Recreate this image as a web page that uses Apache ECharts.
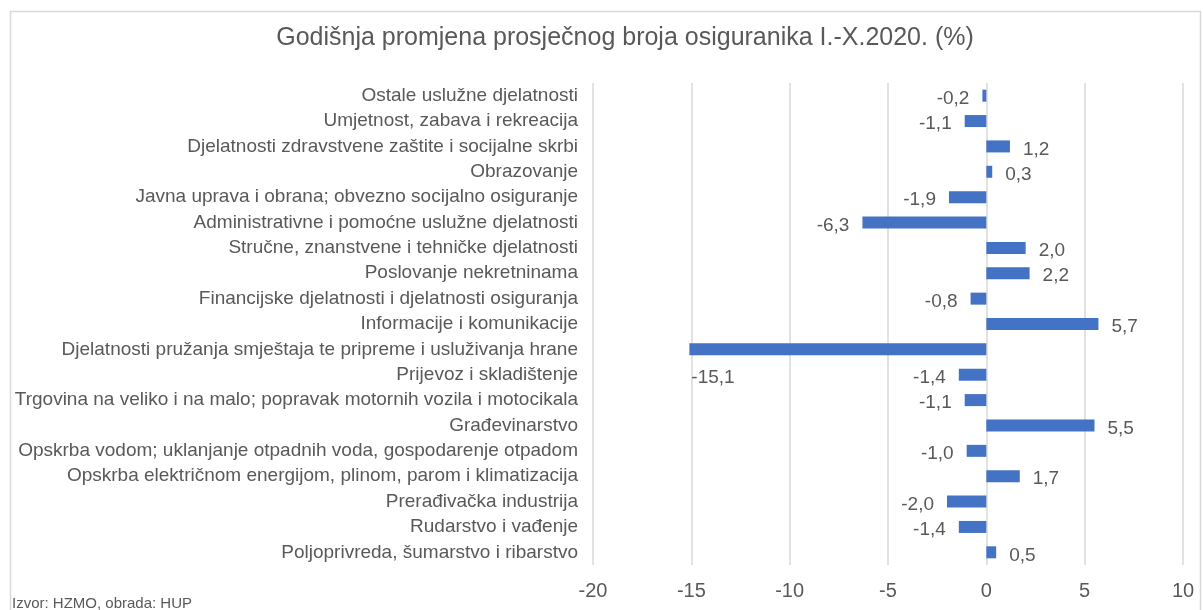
<!DOCTYPE html>
<html lang="hr">
<head>
  <meta charset="UTF-8">
  <title>Godišnja promjena prosječnog broja osiguranika</title>
  <script src="https://cdn.jsdelivr.net/npm/echarts@6/dist/echarts.min.js"></script>
  <style>
    body { margin: 0; background: #fff; }
  </style>
</head>
<body>
  <div id="main" style="width: 1203px; height: 610px;"></div>

  <script>
    // Categories listed bottom to top (same order as the axis)
    const categories = [
      'Poljoprivreda, šumarstvo i ribarstvo',
      'Rudarstvo i vađenje',
      'Prerađivačka industrija',
      'Opskrba električnom energijom, plinom, parom i klimatizacija',
      'Opskrba vodom; uklanjanje otpadnih voda, gospodarenje otpadom',
      'Građevinarstvo',
      'Trgovina na veliko i na malo; popravak motornih vozila i motocikala',
      'Prijevoz i skladištenje',
      'Djelatnosti pružanja smještaja te pripreme i usluživanja hrane',
      'Informacije i komunikacije',
      'Financijske djelatnosti i djelatnosti osiguranja',
      'Poslovanje nekretninama',
      'Stručne, znanstvene i tehničke djelatnosti',
      'Administrativne i pomoćne uslužne djelatnosti',
      'Javna uprava i obrana; obvezno socijalno osiguranje',
      'Obrazovanje',
      'Djelatnosti zdravstvene zaštite i socijalne skrbi',
      'Umjetnost, zabava i rekreacija',
      'Ostale uslužne djelatnosti'
    ];

    const changes = [0.5, -1.4, -2.0, 1.7, -1.0, 5.5, -1.1, -1.4, -15.1, 5.7,
                     -0.8, 2.2, 2.0, -6.3, -1.9, 0.3, 1.2, -1.1, -0.2];

    const textColor = '#595959';
    const gridColor = '#d9d9d9';
    const font = 'Liberation Sans';

    let myChart = echarts.init(document.getElementById('main'));

    // the big negative bar has its label tucked under the bar end
    const barData = changes.map(v => {
      if (v < -10) {
        return {
          value: v,
          label: { position: 'insideLeft', distance: 2, offset: [0, 28] }
        };
      }
      return v;
    });

    const options = {
      animation: false,
      backgroundColor: '#fff',
      graphic: [
        {
          type: 'rect',
          shape: { x: 10.5, y: 11.5, width: 1190, height: 620 },
          style: { fill: 'none', stroke: gridColor, lineWidth: 1.5 },
          silent: true
        },
        {
          type: 'text',
          x: 625,
          y: 38,
          style: {
            text: 'Godišnja promjena prosječnog broja osiguranika I.-X.2020. (%)',
            fontFamily: font,
            fontSize: 25,
            fill: textColor,
            align: 'center',
            verticalAlign: 'middle'
          }
        },
        {
          type: 'text',
          x: 12,
          y: 604,
          style: {
            text: 'Izvor: HZMO, obrada: HUP',
            fontFamily: font,
            fontSize: 15,
            fill: textColor,
            verticalAlign: 'middle'
          }
        }
      ],
      grid: { left: 593, right: 20, top: 83, bottom: 45, containLabel: false },
      xAxis: {
        type: 'value',
        min: -20,
        max: 10,
        interval: 5,
        axisLine: { show: false },
        axisTick: { show: false },
        axisLabel: {
          margin: 16,
          fontFamily: font,
          fontSize: 20,
          color: textColor
        },
        splitLine: { lineStyle: { color: gridColor, width: 1.5 } }
      },
      yAxis: {
        type: 'category',
        data: categories,
        axisLine: { show: false },
        axisTick: { show: false },
        axisLabel: {
          margin: 15,
          fontFamily: font,
          fontSize: 19,
          color: textColor
        }
      },
      series: [{
        type: 'bar',
        data: barData,
        barWidth: 12,
        itemStyle: { color: '#4472c4' },
        label: {
          show: true,
          position: 'outside',
          distance: 13,
          offset: [0, 3],
          fontFamily: font,
          fontSize: 19,
          color: textColor,
          formatter: p => p.value.toFixed(1).replace('.', ',')
        }
      }]
    };

    myChart.setOption(options);
  </script>
</body>
</html>
